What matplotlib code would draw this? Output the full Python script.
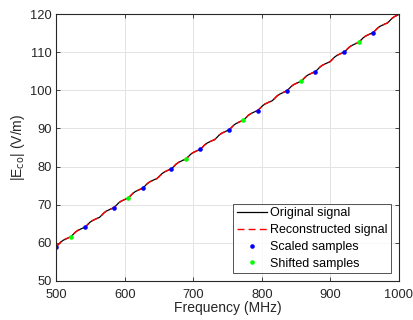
import matplotlib
matplotlib.use("Agg")
import matplotlib.pyplot as plt

plt.rcParams["font.family"] = ["Liberation Sans", "DejaVu Sans"]

# original signal (MHz, V/m)
freq = [
    500, 503.5, 507, 510.5, 514, 517.5,
    521, 524.5, 528, 531.5, 535, 538.5,
    542, 545.5, 549, 552.5, 556, 559.5,
    563, 566.5, 570, 573.5, 577, 580.5,
    584, 587.5, 591, 594.5, 598, 601.5,
    605, 608.5, 612, 615.5, 619, 622.5,
    626, 629.5, 633, 636.5, 640, 643.5,
    647, 650.5, 654, 657.5, 661, 664.5,
    668, 671.5, 675, 678.5, 682, 685.5,
    689, 692.5, 696, 699.5, 703, 706.5,
    710, 713.5, 717, 720.5, 724, 727.5,
    731, 734.5, 738, 741.5, 745, 748.5,
    752, 755.5, 759, 762.5, 766, 769.5,
    773, 776.5, 780, 783.5, 787, 790.5,
    794, 797.5, 801, 804.5, 808, 811.5,
    815, 818.5, 822, 825.5, 829, 832.5,
    836, 839.5, 843, 846.5, 850, 853.5,
    857, 860.5, 864, 867.5, 871, 874.5,
    878, 881.5, 885, 888.5, 892, 895.5,
    899, 902.5, 906, 909.5, 913, 916.5,
    920, 923.5, 927, 930.5, 934, 937.5,
    941, 944.5, 948, 951.5, 955, 958.5,
    962, 965.5, 969, 972.5, 976, 979.5,
    983, 986.5, 990, 993.5, 997, 1000,
]
e_orig = [
    59.0, 59.6, 60.25, 60.7, 61.0, 61.3,
    61.55, 62.15, 62.8, 63.25, 63.55, 63.85,
    64.1, 64.7, 65.35, 65.8, 66.1, 66.4,
    66.65, 67.25, 67.9, 68.35, 68.65, 68.95,
    69.2, 69.8, 70.45, 70.9, 71.2, 71.5,
    71.75, 72.35, 73.0, 73.45, 73.75, 74.05,
    74.3, 74.9, 75.55, 76.0, 76.3, 76.6,
    76.85, 77.45, 78.1, 78.55, 78.85, 79.15,
    79.4, 80.0, 80.65, 81.1, 81.4, 81.7,
    81.95, 82.55, 83.2, 83.65, 83.95, 84.25,
    84.5, 85.1, 85.75, 86.2, 86.5, 86.8,
    87.05, 87.65, 88.3, 88.75, 89.05, 89.35,
    89.6, 90.2, 90.85, 91.3, 91.6, 91.9,
    92.15, 92.75, 93.4, 93.85, 94.15, 94.45,
    94.7, 95.3, 95.95, 96.4, 96.7, 97.0,
    97.25, 97.85, 98.5, 98.95, 99.25, 99.55,
    99.8, 100.4, 101.05, 101.5, 101.8, 102.1,
    102.35, 102.95, 103.6, 104.05, 104.35, 104.65,
    104.9, 105.5, 106.15, 106.6, 106.9, 107.2,
    107.45, 108.05, 108.7, 109.15, 109.45, 109.75,
    110.0, 110.6, 111.25, 111.7, 112.0, 112.3,
    112.55, 113.15, 113.8, 114.25, 114.55, 114.85,
    115.1, 115.7, 116.35, 116.8, 117.1, 117.4,
    117.65, 118.25, 118.9, 119.35, 119.65, 119.9,
]
# reconstruction sits right on top of the original
e_recon = list(e_orig)

scaled_freq = [500, 542, 584, 626, 668, 710, 752, 794, 836, 878, 920, 962]
scaled_vals = [59.0, 64.1, 69.2, 74.3, 79.4, 84.5, 89.6, 94.7, 99.8, 104.9, 110.0, 115.1]
shifted_freq = [521, 605, 689, 773, 857, 941]
shifted_vals = [61.55, 71.75, 81.95, 92.15, 102.35, 112.55]

AX_COLOR = "#262626"

fig = plt.figure(figsize=(4.13, 3.2), dpi=100)
ax = fig.add_axes([0.136, 0.122, 0.830, 0.834])

ax.plot(freq, e_orig, color="black", lw=0.9, label="Original signal")
ax.plot(freq, e_recon, color="#ff0000", lw=1.0, ls=(0, (5, 3)), label="Reconstructed signal")
ax.plot(scaled_freq, scaled_vals, ls="none", marker="o", ms=3.3, color="blue",
        mec="none", label="Scaled samples")
ax.plot(shifted_freq, shifted_vals, ls="none", marker="o", ms=3.3, color="#00ff00",
        mec="none", label="Shifted samples")

ax.set_xlim(500, 1000)
ax.set_ylim(50, 120)
ax.set_xticks([500, 600, 700, 800, 900, 1000])
ax.set_yticks([50, 60, 70, 80, 90, 100, 110, 120])
ax.grid(True, color="#e3e3e3", lw=0.7)
ax.set_axisbelow(True)

for s in ax.spines.values():
    s.set_color(AX_COLOR)
    s.set_linewidth(0.8)
ax.tick_params(direction="in", top=True, right=True, length=3, width=0.6,
               colors=AX_COLOR, labelsize=9.3)
ax.tick_params(axis="x", pad=6)
ax.tick_params(axis="y", pad=3)

ax.set_xlabel("Frequency (MHz)", fontsize=10, color=AX_COLOR, labelpad=0)
ax.set_ylabel(r"|E$_{\mathrm{co}}$| (V/m)", fontsize=10, color=AX_COLOR, labelpad=2)

leg = ax.legend(loc="lower right", fontsize=9, frameon=True, fancybox=False,
                edgecolor=AX_COLOR, handlelength=2.4, handletextpad=0.25,
                labelspacing=0.38, borderpad=0.3, borderaxespad=0.6)
leg.get_frame().set_linewidth(0.7)
for t in leg.get_texts():
    t.set_color("black")

fig.savefig("out.png", dpi=100)
